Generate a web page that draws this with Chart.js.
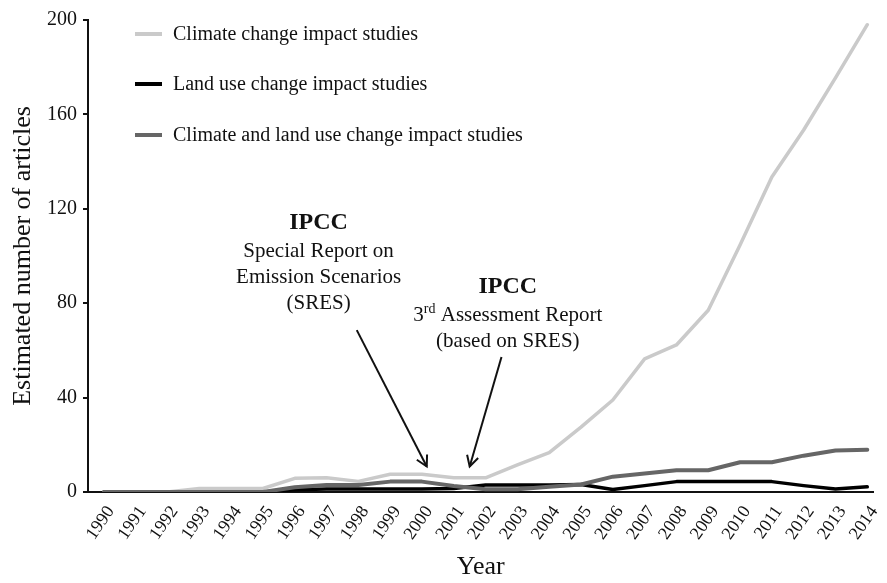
<!DOCTYPE html>
<html>
<head>
<meta charset="utf-8">
<script src="https://cdn.jsdelivr.net/npm/chart.js@4.4.1/dist/chart.umd.min.js"></script>
<style>
  html, body { margin: 0; padding: 0; background: #fff; }
  #wrap { width: 887px; height: 583px; position: relative; }
</style>
</head>
<body>
<div id="wrap"><canvas id="c" width="887" height="583"></canvas></div>
<script>
const years = [1990,1991,1992,1993,1994,1995,1996,1997,1998,1999,2000,2001,2002,2003,2004,2005,2006,2007,2008,2009,2010,2011,2012,2013,2014];
const climateChange = [0,0,0,1.5,1.5,1.5,5.8,6,4.5,7.5,7.5,6,6,11.5,16.7,27.5,39,56.4,62.3,77,104.7,133.5,153.4,175.5,198];
const landUseChange = [0,0,0,0,0,0,1,1.3,1.3,1.3,1.3,1.5,3,3,3,3.2,1.1,2.7,4.4,4.4,4.4,4.4,2.7,1.3,2.2];
const combined = [0,0,0,0,0,0,2,3,3,4.4,4.4,2.5,1.2,1.2,2.2,3.2,6.5,7.8,9.2,9.2,12.6,12.6,15.4,17.6,17.9];
const seriesNames = ["Climate change impact studies","Land use change impact studies","Climate and land use change impact studies"];
const yTicks = [0,40,80,120,160,200];
const annotations = [
  {x: 1996.75, y: 114, lines: ["IPCC","Special Report on","Emission Scenarios","(SRES)"], arrowFrom: [1997.95, 68.6], arrowTo: [2000.15, 10.8]},
  {x: 2002.7, y: 87, lines: ["IPCC","3|rd| Assessment Report","(based on SRES)"], arrowFrom: [2002.5, 57.2], arrowTo: [2001.5, 10.8]}
];

const SERIF = '"Liberation Serif", "Times New Roman", serif';
const colors = ['#cacaca', '#000000', '#666666'];

function toPts(arr){ return years.map((yr,i)=>({x: yr, y: arr[i]})); }

const overlay = {
  id: 'overlay',
  afterDraw(chart){
    const ctx = chart.ctx, ca = chart.chartArea;
    const xs = chart.scales.x, ys = chart.scales.y;
    ctx.save();
    // legend
    const rowY = [14, 64, 115];
    chart.data.datasets.forEach((ds, i) => {
      const y = ca.top + rowY[i];
      ctx.strokeStyle = ds.borderColor; ctx.lineWidth = 4;
      ctx.beginPath(); ctx.moveTo(ca.left + 47, y); ctx.lineTo(ca.left + 74, y); ctx.stroke();
      ctx.fillStyle = '#111'; ctx.font = '20px ' + SERIF;
      ctx.textAlign = 'left'; ctx.textBaseline = 'middle';
      ctx.fillText(ds.label, ca.left + 85, y + 1);
    });
    // annotations
    annotations.forEach(a => {
      const cx = xs.getPixelForValue(a.x);
      let cy = ys.getPixelForValue(a.y);
      a.lines.forEach((ln, k) => {
        ctx.fillStyle = '#111'; ctx.textBaseline = 'middle';
        if (k === 0) {
          ctx.font = 'bold 24px ' + SERIF; ctx.textAlign = 'center';
          ctx.fillText(ln, cx, cy);
          cy += 29;
        } else if (ln.indexOf('|') >= 0) {
          const parts = ln.split('|');
          const fMain = '21px ' + SERIF, fSup = '14px ' + SERIF;
          ctx.font = fMain; const w0 = ctx.measureText(parts[0]).width; const w2 = ctx.measureText(parts[2]).width;
          ctx.font = fSup; const w1 = ctx.measureText(parts[1]).width;
          let x = cx - (w0 + w1 + w2) / 2;
          ctx.textAlign = 'left';
          ctx.font = fMain; ctx.fillText(parts[0], x, cy); x += w0;
          ctx.font = fSup; ctx.fillText(parts[1], x, cy - 6); x += w1;
          ctx.font = fMain; ctx.fillText(parts[2], x, cy);
          cy += 26;
        } else {
          ctx.font = '21px ' + SERIF; ctx.textAlign = 'center';
          ctx.fillText(ln, cx, cy);
          cy += 26;
        }
      });
      // arrow
      const x1 = xs.getPixelForValue(a.arrowFrom[0]), y1 = ys.getPixelForValue(a.arrowFrom[1]);
      const x2 = xs.getPixelForValue(a.arrowTo[0]), y2 = ys.getPixelForValue(a.arrowTo[1]);
      ctx.strokeStyle = '#111'; ctx.lineWidth = 2;
      ctx.beginPath(); ctx.moveTo(x1, y1); ctx.lineTo(x2, y2); ctx.stroke();
      const ang = Math.atan2(y2 - y1, x2 - x1), L = 12, sp = 0.5;
      ctx.beginPath();
      ctx.moveTo(x2 - L*Math.cos(ang - sp), y2 - L*Math.sin(ang - sp));
      ctx.lineTo(x2, y2);
      ctx.lineTo(x2 - L*Math.cos(ang + sp), y2 - L*Math.sin(ang + sp));
      ctx.stroke();
    });
    ctx.restore();
  }
};

new Chart(document.getElementById('c'), {
  type: 'line',
  data: {
    datasets: [
      {label: seriesNames[0], data: toPts(climateChange), borderColor: colors[0], borderWidth: 3.5, order: 3},
      {label: seriesNames[1], data: toPts(landUseChange), borderColor: colors[1], borderWidth: 3.5, order: 2},
      {label: seriesNames[2], data: toPts(combined), borderColor: colors[2], borderWidth: 4, order: 1}
    ]
  },
  options: {
    responsive: false,
    animation: false,
    events: [],
    layout: { padding: { top: 20, right: 4, left: 0, bottom: 0 } },
    elements: { point: { radius: 0 }, line: { tension: 0, borderJoinStyle: 'round', borderCapStyle: 'round' } },
    plugins: { legend: { display: false }, tooltip: { enabled: false } },
    scales: {
      x: {
        type: 'linear', min: 1989.5, max: 2014.2,
        afterBuildTicks: s => { s.ticks = years.map(v => ({value: v})); },
        afterFit: s => { s.height = 91; },
        grid: { display: false },
        border: { display: true, color: '#111', width: 2 },
        ticks: { minRotation: 55, maxRotation: 55, color: '#111', padding: 2, labelOffset: 7, font: { family: SERIF, size: 18 }, callback: v => String(v) },
        title: { display: true, text: 'Year', color: '#111', font: { family: SERIF, size: 26 }, padding: { top: 0, bottom: 0 } }
      },
      y: {
        min: 0, max: 200,
        afterBuildTicks: s => { s.ticks = yTicks.map(v => ({value: v})); },
        afterFit: s => { s.width = 88; },
        grid: { drawOnChartArea: false, drawTicks: true, tickLength: 5, color: '#111', lineWidth: 2 },
        border: { display: true, color: '#111', width: 2 },
        ticks: { color: '#111', padding: 6, font: { family: SERIF, size: 20 } },
        title: { display: true, text: 'Estimated number of articles', color: '#111', font: { family: SERIF, size: 26 }, padding: { top: 8, bottom: 0 } }
      }
    }
  },
  plugins: [overlay]
});
</script>
</body>
</html>
